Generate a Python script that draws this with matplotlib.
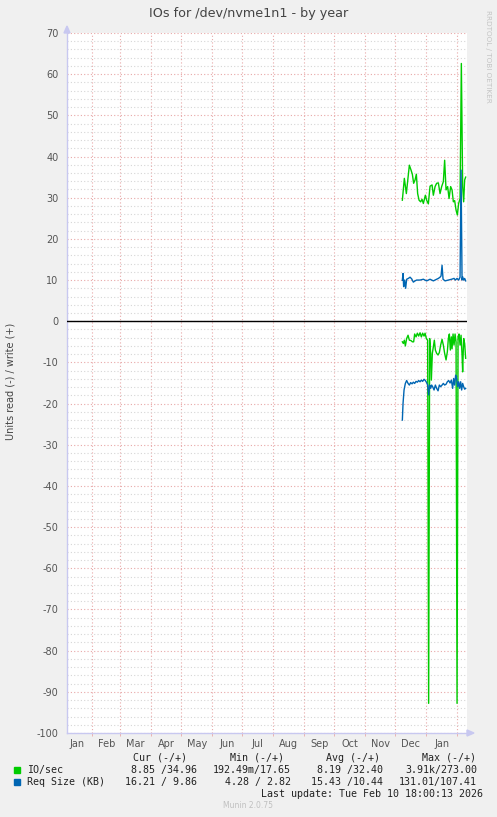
import numpy as np
import matplotlib
matplotlib.use("Agg")
import matplotlib.pyplot as plt
import matplotlib.dates as mdates
from matplotlib.patches import Rectangle
from datetime import datetime, timedelta

plt.rcParams['axes.unicode_minus'] = False
plt.rcParams['font.family'] = ['DejaVu Sans']

# ---- data (day offsets are days after 2025-12-01) ----
base_day = datetime(2025, 12, 1)
end_time = datetime(2026, 2, 10, 18, 0, 13)
start_time = end_time - timedelta(days=400)

write_io_days = [7.1, 9.1, 11.1, 14.1, 15.8, 17.1, 18.4, 19.8, 21.1, 22.4, 23.8, 25.4, 26.8,
                 28.1, 30.1, 31.4, 33.1, 34.8, 36.8, 38.1, 39.8, 41.4, 43.1, 44.8, 46.4,
                 48.1, 49.4, 50.8, 52.4, 53.8, 55.4, 56.8, 58.1, 59.4, 60.8, 62.1, 63.4,
                 64.8, 66.1, 67.4, 68.4, 69.4, 70.4]
write_io = [29.4, 34.7, 31.0, 37.9, 36.7, 35.7, 33.5, 34.3, 35.7, 31.0, 29.4, 29.0, 29.6,
            28.6, 30.6, 29.4, 28.5, 32.8, 33.1, 30.6, 32.7, 33.5, 33.6, 31.0, 32.7,
            33.9, 39.1, 31.9, 32.7, 29.8, 32.7, 31.9, 29.0, 29.3, 27.0, 25.8, 28.6,
            29.8, 62.6, 32.7, 29.0, 34.3, 35.0]

read_io_days = [7.1, 8.1, 9.1, 10.1, 11.4, 12.8, 14.1, 15.8, 17.1, 18.4, 19.4, 20.8, 22.1,
                23.4, 24.8, 26.1, 27.4, 28.8, 29.8, 31.1, 32.4, 33.4, 34.4, 35.4, 36.1,
                37.1, 38.1, 39.1, 40.1, 41.4, 42.8, 44.1, 45.4, 46.8, 48.1, 49.4, 50.8,
                52.1, 53.1, 54.1, 55.1, 56.1, 56.8, 57.8, 58.8, 59.8, 60.8, 61.8, 62.8,
                63.8, 64.8, 65.8, 66.8, 67.4, 68.4, 69.4, 70.4]
read_io = [5.0, 5.4, 4.6, 6.0, 4.2, 3.4, 4.6, 4.7, 5.0, 5.0, 3.1, 3.8, 2.9,
           3.6, 2.8, 3.8, 2.9, 3.6, 2.9, 4.2, 4.6, 92.8, 4.2, 7.8, 14.3,
           7.8, 6.2, 4.6, 7.0, 7.8, 8.2, 7.6, 5.8, 4.4, 5.8, 7.8, 9.4,
           7.4, 4.2, 3.1, 7.0, 3.8, 6.7, 3.1, 5.8, 3.1, 5.0, 92.8, 3.8,
           3.1, 5.8, 3.4, 8.2, 12.3, 4.2, 5.4, 9.0]

write_kb_days = [7.1, 7.8, 8.4, 9.4, 10.4, 11.4, 13.1, 14.8, 16.4, 18.1, 19.8, 21.4, 24.8,
                 28.1, 31.4, 34.8, 38.1, 41.4, 43.1, 44.8, 45.8, 46.8, 47.8, 49.8, 53.1,
                 56.4, 58.8, 60.1, 61.8, 63.4, 64.8, 65.8, 66.8, 67.4, 68.4, 69.4, 70.4]
write_kb = [10.0, 11.6, 8.4, 10.0, 8.0, 10.2, 10.4, 10.7, 10.3, 9.5, 9.8, 10.0, 10.0,
            10.2, 9.8, 10.2, 9.8, 10.2, 10.4, 10.7, 11.0, 13.6, 10.2, 9.8, 10.0,
            10.2, 10.4, 10.0, 10.4, 10.0, 10.7, 36.7, 10.0, 10.8, 10.0, 10.4, 9.8]

read_kb_days = [7.1, 7.8, 8.8, 10.1, 11.4, 12.8, 14.1, 15.4, 16.8, 18.1, 19.4, 20.8, 22.1,
                23.4, 24.8, 26.1, 27.4, 28.8, 30.1, 31.4, 32.4, 33.4, 34.4, 35.4, 36.4,
                37.4, 38.8, 40.1, 41.4, 42.8, 44.1, 45.4, 46.8, 48.1, 49.4, 50.8, 52.1,
                53.4, 54.8, 56.1, 57.4, 58.4, 59.4, 60.4, 61.4, 62.4, 63.4, 64.4, 65.4,
                66.4, 67.4, 68.4, 69.4, 70.4]
read_kb = [24.0, 19.9, 16.7, 15.1, 14.4, 15.1, 15.5, 14.9, 15.2, 14.8, 15.1, 14.6, 14.8,
           14.4, 14.7, 14.3, 14.6, 14.1, 14.4, 14.9, 15.5, 17.9, 15.5, 16.3, 15.5,
           15.9, 16.7, 15.5, 16.3, 16.9, 15.5, 15.9, 15.5, 15.1, 15.5, 15.3, 14.7,
           14.4, 15.0, 14.3, 16.3, 13.9, 15.5, 13.1, 13.9, 15.9, 14.7, 16.3, 14.7,
           16.7, 15.1, 15.9, 16.5, 16.3]

month_labels = ['Jan', 'Feb', 'Mar', 'Apr', 'May', 'Jun', 'Jul', 'Aug', 'Sep', 'Oct', 'Nov',
                'Dec', 'Jan']

legend_names = ['IO/sec', 'Req Size (KB)']
legend_colors = ['#00CC00', '#0066B3']
legend_headers = ['Cur (-/+)', 'Min (-/+)', 'Avg (-/+)', 'Max (-/+)']
io_stats = ['8.85 /34.96', '192.49m/17.65', '8.19 /32.40', '3.91k/273.00']
kb_stats = ['16.21 / 9.86', '4.28 / 2.82', '15.43 /10.44', '131.01/107.41']

W, H = 497, 817


def fx(x):
    return x / W


def fy(y):
    return 1 - y / H


def to_dates(days):
    return [mdates.date2num(base_day + timedelta(days=d)) for d in days]


fig = plt.figure(figsize=(W / 100, H / 100), dpi=100, facecolor='#F0F0F0')
ax = fig.add_axes([fx(67), fy(733), (467 - 67) / W, (733 - 33) / H])
ax.set_facecolor('white')

# series (read drawn on negative side)
ax.plot(to_dates(write_io_days), write_io, color=legend_colors[0], lw=1.0, zorder=4)
ax.plot(to_dates(read_io_days), -np.array(read_io), color=legend_colors[0], lw=1.0, zorder=4)
ax.plot(to_dates(write_kb_days), write_kb, color=legend_colors[1], lw=1.0, zorder=5)
ax.plot(to_dates(read_kb_days), -np.array(read_kb), color=legend_colors[1], lw=1.0, zorder=5)

ax.axhline(0, color='black', lw=1.0, zorder=6)

ax.set_xlim(mdates.date2num(start_time), mdates.date2num(end_time))
ax.set_ylim(-100, 70)

# grid
ax.set_yticks(np.arange(-100, 71, 10))
ax.set_yticks(np.arange(-100, 71, 2), minor=True)
month_starts = [datetime(2025, m, 1) for m in range(2, 13)] + [datetime(2026, 1, 1), datetime(2026, 2, 1)]
ax.set_xticks(mdates.date2num(month_starts), minor=True)
label_pos = []
for i in range(len(month_labels)):
    y0 = 2025 + (i // 12)
    m0 = i % 12 + 1
    s = datetime(y0, m0, 1)
    e = datetime(y0 + (m0 // 12), m0 % 12 + 1, 1)
    label_pos.append(mdates.date2num(s + (e - s) / 2))
ax.set_xticks(label_pos)
ax.set_xticklabels(month_labels)

dot = (0, (1, 2))
ax.grid(which='minor', axis='y', color='#d6d6d6', lw=0.8, linestyle=dot)
ax.grid(which='major', axis='y', color='#e8a8a8', lw=0.8, linestyle=dot)
ax.grid(which='minor', axis='x', color='#e8a8a8', lw=0.8, linestyle=dot)
ax.grid(which='major', axis='x', visible=False)
ax.set_axisbelow(True)

ax.tick_params(axis='both', which='both', length=0, labelsize=7, colors='#555555')
ax.tick_params(axis='y', pad=6)
ax.tick_params(axis='x', pad=4)
ax.tick_params(axis='x', which='minor', length=2, color='#e8a8a8')

for side in ['top', 'right']:
    ax.spines[side].set_visible(False)
for side in ['left', 'bottom']:
    ax.spines[side].set_color('#c8c8f0')
    ax.spines[side].set_linewidth(1.0)

# axis arrows
fig.patches.append(plt.Polygon([[fx(64), fy(33)], [fx(70), fy(33)], [fx(67), fy(26)]],
                               closed=True, color='#c8c8f0', transform=fig.transFigure))
fig.patches.append(plt.Polygon([[fx(467), fy(730)], [fx(467), fy(736)], [fx(474), fy(733)]],
                               closed=True, color='#c8c8f0', transform=fig.transFigure))

# titles
fig.text(fx(248.5), fy(13), 'IOs for /dev/nvme1n1 - by year', ha='center', va='center',
         fontsize=9.2, color='#444444')
fig.text(fx(11), fy(381), 'Units read (-) / write (+)', ha='center', va='center',
         rotation=90, fontsize=7, color='#444444')
fig.text(fx(488), fy(56), 'RRDTOOL / TOBI OETIKER', ha='center', va='center',
         rotation=270, fontsize=5.2, color='#c4c4c4')

# legend
mono = dict(family='DejaVu Sans Mono', fontsize=7.2, color='#222222', va='center')
header_right = [187, 284, 380, 476]
for h, xr in zip(legend_headers, header_right):
    fig.text(fx(xr), fy(758), h, ha='right', **mono)

rows_y = [769.5, 782]
value_right = [197, 291, 383, 477]
for name, col, yy, stats in zip(legend_names, legend_colors, rows_y, [io_stats, kb_stats]):
    fig.patches.append(Rectangle((fx(14), fy(yy + 3)), 6 / W, 6 / H, facecolor=col,
                                 edgecolor=col, transform=fig.transFigure))
    fig.text(fx(27), fy(yy), name, ha='left', **mono)
    for txt, xr in zip(stats, value_right):
        fig.text(fx(xr), fy(yy), txt, ha='right', **mono)

fig.text(fx(483), fy(794), 'Last update: Tue Feb 10 18:00:13 2026', ha='right', **mono)
fig.text(fx(248), fy(806), 'Munin 2.0.75', ha='center', va='center', fontsize=5.5,
         color='#c0c0c0')

fig.savefig('out.png', dpi=100, facecolor=fig.get_facecolor())
